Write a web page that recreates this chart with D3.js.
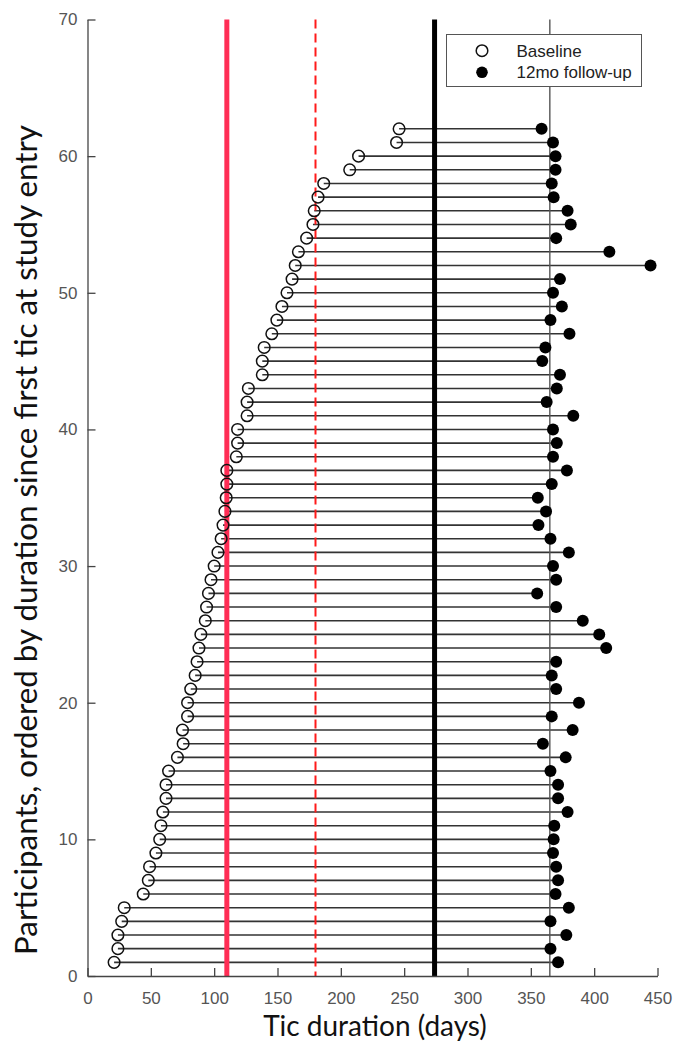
<!DOCTYPE html>
<html>
<head>
<meta charset="utf-8">
<script src="https://cdn.jsdelivr.net/npm/d3@7"></script>
<style>
  html, body { margin: 0; padding: 0; background: #fff; }
  svg { display: block; }
  .tick text { font-family: "Liberation Sans", Arial, sans-serif; font-size: 17px; fill: #555; }
  .title { font-family: Lato, "Open Sans", sans-serif; font-size: 28px; fill: #111; }
  .legend text { font-family: "Liberation Sans", Arial, sans-serif; font-size: 17px; fill: #222; }
</style>
</head>
<body>
<svg id="chart"></svg>
<script>
// participants 1..62, ordered by baseline duration
var participants = d3.range(1, 63);

// days since first tic at study entry
var baseline = [21, 24, 24, 27, 29, 44, 48, 49, 54, 57,
  58, 59.5, 62, 62, 64, 71, 75.5, 75, 79, 79,
  81.5, 85, 86.5, 88, 89.5, 93, 94, 95.5, 97.5, 100,
  103, 105.5, 107, 108.5, 109.5, 110, 110, 117.5, 118.5, 118.5,
  126, 126, 127, 138, 138, 139.5, 145.5, 149.5, 153.5, 157.5,
  161.5, 164, 166.5, 173, 178, 179, 182, 186.5, 207, 214,
  244, 246];

// days at the 12 month visit
var followup = [371.5, 365.5, 378, 365.5, 380, 369.5, 371.5, 370, 367.5, 368,
  368.5, 379, 371.5, 371.5, 365.5, 377.5, 359.5, 383, 366.5, 388,
  370, 366.5, 370, 409.5, 404, 391, 370, 355, 370, 367.5,
  380, 365.5, 356, 362, 355.5, 366.5, 378.5, 367.5, 370.5, 367.5,
  383.5, 362.5, 370.5, 373, 359, 361.5, 380.5, 365.5, 374.5, 367.5,
  373, 444.5, 412, 370, 381.5, 379, 368, 366.5, 369.5, 369.5,
  367.5, 358.5];

// reference lines (days)
var refLines = [
  { day: 110, color: "#ff2d55", width: 5, dash: null },
  { day: 180, color: "#ff1a1a", width: 2, dash: "9,5" },
  { day: 274, color: "#000", width: 5, dash: null },
  { day: 365, color: "#555", width: 1.4, dash: null }
];

var xTicks = d3.range(0, 451, 50);
var yTicks = d3.range(0, 71, 10);
var legendLabels = ["Baseline", "12mo follow-up"];

var width = 683, height = 1050;
var margin = { left: 87.5, right: 25.5, top: 19.5, bottom: 74 };

var svg = d3.select("#chart")
  .attr("width", width)
  .attr("height", height);

var x = d3.scaleLinear().domain([0, 450]).range([margin.left, width - margin.right]);
var y = d3.scaleLinear().domain([0, 70]).range([height - margin.bottom, margin.top]);

var data = participants.map(function(p, i) {
  return { id: p, start: baseline[i], end: followup[i] };
});

// stems
svg.append("g")
  .selectAll("line")
  .data(data)
  .enter()
  .append("line")
  .attr("x1", function(d) { return x(d.start); })
  .attr("x2", function(d) { return x(d.end); })
  .attr("y1", function(d) { return y(d.id); })
  .attr("y2", function(d) { return y(d.id); })
  .attr("stroke", "#333")
  .attr("stroke-width", 1.6);

// reference lines
svg.append("g")
  .selectAll("line")
  .data(refLines)
  .enter()
  .append("line")
  .attr("x1", function(d) { return x(d.day); })
  .attr("x2", function(d) { return x(d.day); })
  .attr("y1", y(70))
  .attr("y2", y(0))
  .attr("stroke", function(d) { return d.color; })
  .attr("stroke-width", function(d) { return d.width; })
  .attr("stroke-dasharray", function(d) { return d.dash; });

// baseline markers
svg.append("g")
  .selectAll("circle")
  .data(data)
  .enter()
  .append("circle")
  .attr("cx", function(d) { return x(d.start); })
  .attr("cy", function(d) { return y(d.id); })
  .attr("r", 5.8)
  .attr("fill", "none")
  .attr("stroke", "#111")
  .attr("stroke-width", 1.5);

// follow-up markers
svg.append("g")
  .selectAll("circle")
  .data(data)
  .enter()
  .append("circle")
  .attr("cx", function(d) { return x(d.end); })
  .attr("cy", function(d) { return y(d.id); })
  .attr("r", 6)
  .attr("fill", "#000");

// axes, ticks pointing inward
var xAxis = d3.axisBottom(x).tickValues(xTicks).tickSize(-8).tickSizeOuter(0).tickPadding(16);
var yAxis = d3.axisLeft(y).tickValues(yTicks).tickSize(-8).tickSizeOuter(0).tickPadding(10);

var gx = svg.append("g")
  .attr("transform", "translate(0," + y(0) + ")")
  .call(xAxis);
var gy = svg.append("g")
  .attr("transform", "translate(" + x(0) + ",0)")
  .call(yAxis);

[gx, gy].forEach(function(g) {
  g.select(".domain").attr("stroke", "#444").attr("stroke-width", 1.3);
  g.selectAll(".tick line").attr("stroke", "#444").attr("stroke-width", 1.3);
});

// axis titles
svg.append("text")
  .attr("class", "title")
  .attr("x", 375)
  .attr("y", 1036)
  .attr("text-anchor", "middle")
  .text("Tic duration (days)");

svg.append("text")
  .attr("class", "title")
  .attr("transform", "translate(37,540) rotate(-90)")
  .attr("text-anchor", "middle")
  .style("font-size", "30px")
  .attr("textLength", 830)
  .attr("lengthAdjust", "spacingAndGlyphs")
  .text("Participants, ordered by duration since first tic at study entry");

// legend
var legend = svg.append("g").attr("class", "legend");
legend.append("rect")
  .attr("x", 446.5)
  .attr("y", 34.5)
  .attr("width", 195)
  .attr("height", 52)
  .attr("fill", "#fff")
  .attr("stroke", "#555")
  .attr("stroke-width", 1);

var rows = legend.selectAll(".row")
  .data(legendLabels)
  .enter()
  .append("g")
  .attr("class", "row")
  .attr("transform", function(d, i) { return "translate(482," + (50.7 + i * 21.6) + ")"; });

rows.append("circle")
  .attr("r", 5.8)
  .attr("fill", function(d, i) { return i === 0 ? "none" : "#000"; })
  .attr("stroke", function(d, i) { return i === 0 ? "#111" : "none"; })
  .attr("stroke-width", 1.5);

rows.append("text")
  .attr("x", 34.5)
  .attr("dy", "0.36em")
  .text(function(d) { return d; });
</script>
</body>
</html>
